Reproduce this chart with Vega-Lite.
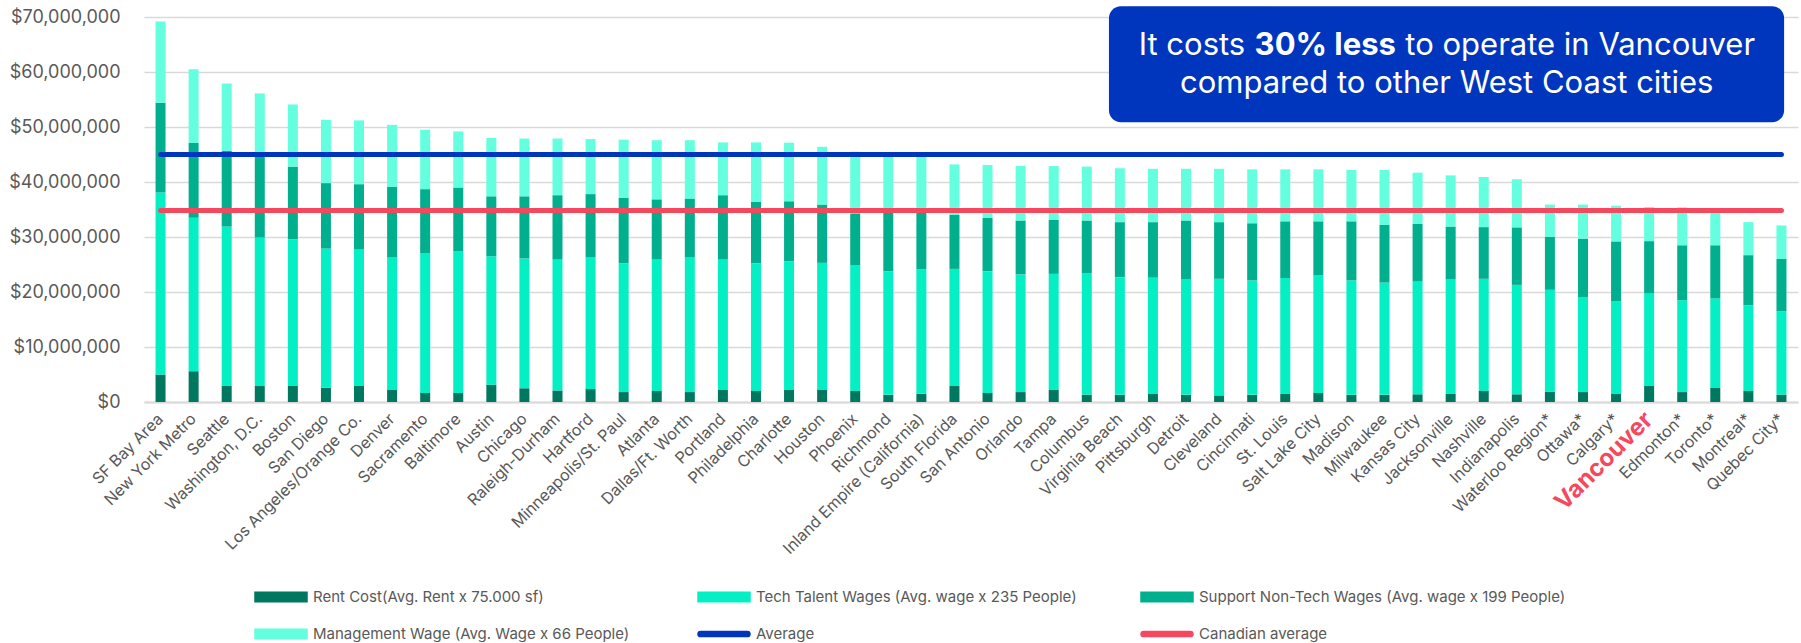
{
  "$schema": "https://vega.github.io/schema/vega-lite/v6.json",
  "width": 1654,
  "height": 385,
  "autosize": {"type": "none"},
  "padding": {"left": 144, "top": 17, "right": 3, "bottom": 241},
  "background": "white",
  "config": {"font": "Inter", "view": {"stroke": null}},
  "datasets": {
    "cities": [
      {"city": "SF Bay Area", "rent": 5000000, "labor_tech": 33100000, "labor_support": 16300000, "labor_mgmt": 14800000},
      {"city": "New York Metro", "rent": 5600000, "labor_tech": 27900000, "labor_support": 13600000, "labor_mgmt": 13400000},
      {"city": "Seattle", "rent": 3000000, "labor_tech": 28900000, "labor_support": 13800000, "labor_mgmt": 12200000},
      {"city": "Washington, D.C.", "rent": 2900000, "labor_tech": 27000000, "labor_support": 15000000, "labor_mgmt": 11200000},
      {"city": "Boston", "rent": 3000000, "labor_tech": 26600000, "labor_support": 13200000, "labor_mgmt": 11300000},
      {"city": "San Diego", "rent": 2600000, "labor_tech": 25300000, "labor_support": 11900000, "labor_mgmt": 11500000},
      {"city": "Los Angeles/Orange Co.", "rent": 3000000, "labor_tech": 24800000, "labor_support": 11800000, "labor_mgmt": 11600000},
      {"city": "Denver", "rent": 2200000, "labor_tech": 24100000, "labor_support": 12800000, "labor_mgmt": 11300000},
      {"city": "Sacramento", "rent": 1650000, "labor_tech": 25350000, "labor_support": 11700000, "labor_mgmt": 10800000},
      {"city": "Baltimore", "rent": 1650000, "labor_tech": 25750000, "labor_support": 11600000, "labor_mgmt": 10200000},
      {"city": "Austin", "rent": 3150000, "labor_tech": 23350000, "labor_support": 10900000, "labor_mgmt": 10600000},
      {"city": "Chicago", "rent": 2500000, "labor_tech": 23600000, "labor_support": 11300000, "labor_mgmt": 10500000},
      {"city": "Raleigh-Durham", "rent": 2100000, "labor_tech": 23800000, "labor_support": 11700000, "labor_mgmt": 10300000},
      {"city": "Hartford", "rent": 2350000, "labor_tech": 23950000, "labor_support": 11500000, "labor_mgmt": 10000000},
      {"city": "Minneapolis/St. Paul", "rent": 1800000, "labor_tech": 23400000, "labor_support": 11950000, "labor_mgmt": 10550000},
      {"city": "Atlanta", "rent": 2000000, "labor_tech": 23900000, "labor_support": 10950000, "labor_mgmt": 10750000},
      {"city": "Dallas/Ft. Worth", "rent": 1800000, "labor_tech": 24500000, "labor_support": 10700000, "labor_mgmt": 10600000},
      {"city": "Portland", "rent": 2200000, "labor_tech": 23700000, "labor_support": 11700000, "labor_mgmt": 9600000},
      {"city": "Philadelphia", "rent": 2000000, "labor_tech": 23200000, "labor_support": 11200000, "labor_mgmt": 10800000},
      {"city": "Charlotte", "rent": 2200000, "labor_tech": 23400000, "labor_support": 10900000, "labor_mgmt": 10650000},
      {"city": "Houston", "rent": 2200000, "labor_tech": 23100000, "labor_support": 10600000, "labor_mgmt": 10500000},
      {"city": "Phoenix", "rent": 2000000, "labor_tech": 22850000, "labor_support": 9450000, "labor_mgmt": 11200000},
      {"city": "Richmond", "rent": 1300000, "labor_tech": 22450000, "labor_support": 10650000, "labor_mgmt": 10400000},
      {"city": "Inland Empire (California)", "rent": 1500000, "labor_tech": 22600000, "labor_support": 10400000, "labor_mgmt": 10200000},
      {"city": "South Florida", "rent": 2900000, "labor_tech": 21300000, "labor_support": 9800000, "labor_mgmt": 9200000},
      {"city": "San Antonio", "rent": 1650000, "labor_tech": 22100000, "labor_support": 9700000, "labor_mgmt": 9650000},
      {"city": "Orlando", "rent": 1800000, "labor_tech": 21400000, "labor_support": 9800000, "labor_mgmt": 9950000},
      {"city": "Tampa", "rent": 2200000, "labor_tech": 21100000, "labor_support": 9850000, "labor_mgmt": 9750000},
      {"city": "Columbus", "rent": 1350000, "labor_tech": 22050000, "labor_support": 9600000, "labor_mgmt": 9800000},
      {"city": "Virginia Beach", "rent": 1300000, "labor_tech": 21400000, "labor_support": 10000000, "labor_mgmt": 9800000},
      {"city": "Pittsburgh", "rent": 1450000, "labor_tech": 21150000, "labor_support": 10100000, "labor_mgmt": 9700000},
      {"city": "Detroit", "rent": 1300000, "labor_tech": 21000000, "labor_support": 10700000, "labor_mgmt": 9400000},
      {"city": "Cleveland", "rent": 1200000, "labor_tech": 21200000, "labor_support": 10300000, "labor_mgmt": 9700000},
      {"city": "Cincinnati", "rent": 1300000, "labor_tech": 20800000, "labor_support": 10400000, "labor_mgmt": 9800000},
      {"city": "St. Louis", "rent": 1450000, "labor_tech": 21100000, "labor_support": 10300000, "labor_mgmt": 9450000},
      {"city": "Salt Lake City", "rent": 1650000, "labor_tech": 21350000, "labor_support": 9850000, "labor_mgmt": 9450000},
      {"city": "Madison", "rent": 1300000, "labor_tech": 20800000, "labor_support": 10750000, "labor_mgmt": 9350000},
      {"city": "Milwaukee", "rent": 1300000, "labor_tech": 20400000, "labor_support": 10500000, "labor_mgmt": 10000000},
      {"city": "Kansas City", "rent": 1400000, "labor_tech": 20500000, "labor_support": 10500000, "labor_mgmt": 9300000},
      {"city": "Jacksonville", "rent": 1450000, "labor_tech": 20850000, "labor_support": 9600000, "labor_mgmt": 9300000},
      {"city": "Nashville", "rent": 2000000, "labor_tech": 20400000, "labor_support": 9400000, "labor_mgmt": 9100000},
      {"city": "Indianapolis", "rent": 1400000, "labor_tech": 19900000, "labor_support": 10450000, "labor_mgmt": 8750000},
      {"city": "Waterloo Region*", "rent": 1900000, "labor_tech": 18500000, "labor_support": 9650000, "labor_mgmt": 5850000},
      {"city": "Ottawa*", "rent": 1800000, "labor_tech": 17200000, "labor_support": 10700000, "labor_mgmt": 6200000},
      {"city": "Calgary*", "rent": 1550000, "labor_tech": 16750000, "labor_support": 10900000, "labor_mgmt": 6500000},
      {"city": "Vancouver", "rent": 3000000, "labor_tech": 16800000, "labor_support": 9450000, "labor_mgmt": 6200000},
      {"city": "Edmonton*", "rent": 1800000, "labor_tech": 16700000, "labor_support": 10000000, "labor_mgmt": 6900000},
      {"city": "Toronto*", "rent": 2550000, "labor_tech": 16300000, "labor_support": 9650000, "labor_mgmt": 6400000},
      {"city": "Montreal*", "rent": 2000000, "labor_tech": 15600000, "labor_support": 9100000, "labor_mgmt": 6000000},
      {"city": "Quebec City*", "rent": 1350000, "labor_tech": 15150000, "labor_support": 9500000, "labor_mgmt": 6100000}
    ],
    "refs": [
      {"city": "SF Bay Area", "series": "Average", "value": 44980000},
      {"city": "Quebec City*", "series": "Average", "value": 44980000},
      {"city": "SF Bay Area", "series": "Canadian average", "value": 34800000},
      {"city": "Quebec City*", "series": "Canadian average", "value": 34800000}
    ]
  },
  "layer": [
    {
      "layer": [
        {
          "data": {"name": "cities"},
          "transform": [{"fold": ["rent", "labor_tech", "labor_support", "labor_mgmt"], "as": ["series", "value"]}],
          "mark": {"type": "bar", "size": 10},
          "encoding": {
            "x": {
              "field": "city", "type": "nominal", "sort": null,
              "scale": {"paddingInner": 0, "paddingOuter": 0},
              "axis": {
                "title": null, "labelAngle": -45, "labelAlign": "right", "labelBaseline": "middle",
                "labelFont": "Inter",
                "labelFontSize": {"condition": {"test": "datum.value == 'Vancouver'", "value": 24}, "value": 16},
                "labelFontWeight": {"condition": {"test": "datum.value == 'Vancouver'", "value": "bold"}, "value": "normal"},
                "labelColor": {"condition": {"test": "datum.value == 'Vancouver'", "value": "#F5485F"}, "value": "#595959"},
                "ticks": false, "domainColor": "#d9d9d9", "domainWidth": 2, "labelPadding": 14,
                "labelLimit": 400, "labelOverlap": false, "grid": false
              }
            },
            "y": {
              "field": "value", "type": "quantitative", "stack": "zero",
              "scale": {"domain": [0, 70000000], "nice": false},
              "axis": {
                "title": null, "values": [0, 10000000, 20000000, 30000000, 40000000, 50000000, 60000000, 70000000],
                "format": "$,.0f", "labelFont": "Inter", "labelFontSize": 18, "labelColor": "#595959",
                "labelPadding": 24, "ticks": false, "domain": false, "gridColor": "#d9d9d9", "gridWidth": 1.3
              }
            },
            "order": {"field": "series", "sort": "descending"},
            "color": {
              "field": "series", "type": "nominal",
              "scale": {
                "domain": ["rent", "labor_tech", "labor_support", "labor_mgmt", "Average", "Canadian average"],
                "range": ["#00775F", "#05EFC5", "#00AF8E", "#63FFDE", "#0036BD", "#F5485F"]
              },
              "legend": {
                "orient": "none", "legendX": 110, "legendY": 572, "direction": "horizontal", "columns": 3,
                "title": null, "labelFont": "Inter", "labelFontSize": 15, "labelColor": "#595959",
                "symbolSize": 2704, "clipHeight": 16, "rowPadding": 21, "columnPadding": 17,
                "gridAlign": "all", "labelOffset": 5, "padding": 0, "labelLimit": 600,
                "labelExpr": "datum.value == 'rent' ? 'Rent Cost(Avg. Rent x 75.000 sf)' : datum.value == 'labor_tech' ? 'Tech Talent Wages (Avg. wage x 235 People)' : datum.value == 'labor_support' ? 'Support Non-Tech Wages (Avg. wage x 199 People)' : datum.value == 'labor_mgmt' ? 'Management Wage (Avg. Wage x 66 People)' : datum.label",
                "encode": {
                  "symbols": {
                    "update": {
                      "shape": {"signal": "(datum.value == 'Average' || datum.value == 'Canadian average') ? 'M-0.9,-0.1L0.9,-0.1A0.1,0.1,0,0,1,0.9,0.1L-0.9,0.1A0.1,0.1,0,0,1,-0.9,-0.1Z' : 'M-1,-0.18L1,-0.18L1,0.18L-1,0.18Z'"},
                      "fill": {"scale": "color", "field": "value"},
                      "stroke": {"value": "transparent"},
                      "opacity": {"value": 1}
                    }
                  }
                }
              }
            }
          }
        },
        {
          "data": {"name": "refs"},
          "mark": {"type": "line", "strokeWidth": 5, "strokeCap": "round"},
          "encoding": {
            "x": {"field": "city", "type": "nominal", "sort": null},
            "y": {"field": "value", "type": "quantitative", "scale": {"domain": [0, 70000000], "nice": false}},
            "color": {"field": "series", "type": "nominal", "legend": null}
          }
        }
      ]
    },
    {
      "data": {"values": [{}]},
      "layer": [
        {
          "mark": {"type": "rect", "color": "#0036BD", "cornerRadius": 12},
          "encoding": {
            "x": {"datum": 29.17, "type": "quantitative", "scale": {"domain": [0, 50], "nice": false, "zero": false}, "axis": null},
            "x2": {"datum": 49.58},
            "y": {"datum": 71950000, "type": "quantitative", "title": null, "scale": {"domain": [0, 70000000], "nice": false}},
            "y2": {"datum": 50850000}
          }
        },
        {
          "mark": {"type": "text", "text": "It costs", "align": "right", "baseline": "alphabetic", "font": "Inter", "fontSize": 31, "color": "white"},
          "encoding": {
            "x": {"datum": 33.29, "type": "quantitative", "scale": {"domain": [0, 50], "nice": false, "zero": false}, "axis": null},
            "y": {"datum": 63040000, "type": "quantitative", "title": null, "scale": {"domain": [0, 70000000], "nice": false}}
          }
        },
        {
          "mark": {"type": "text", "text": "30% less", "align": "center", "baseline": "alphabetic", "font": "Inter", "fontSize": 31, "fontWeight": "bold", "color": "white"},
          "encoding": {
            "x": {"datum": 35.71, "type": "quantitative", "scale": {"domain": [0, 50], "nice": false, "zero": false}, "axis": null},
            "y": {"datum": 63040000, "type": "quantitative", "title": null, "scale": {"domain": [0, 70000000], "nice": false}}
          }
        },
        {
          "mark": {"type": "text", "text": "to operate in Vancouver", "align": "left", "baseline": "alphabetic", "font": "Inter", "fontSize": 31, "color": "white"},
          "encoding": {
            "x": {"datum": 38.13, "type": "quantitative", "scale": {"domain": [0, 50], "nice": false, "zero": false}, "axis": null},
            "y": {"datum": 63040000, "type": "quantitative", "title": null, "scale": {"domain": [0, 70000000], "nice": false}}
          }
        },
        {
          "mark": {"type": "text", "text": "compared to other West Coast cities", "align": "center", "baseline": "alphabetic", "font": "Inter", "fontSize": 31, "color": "white"},
          "encoding": {
            "x": {"datum": 39.38, "type": "quantitative", "scale": {"domain": [0, 50], "nice": false, "zero": false}, "axis": null},
            "y": {"datum": 56130000, "type": "quantitative", "title": null, "scale": {"domain": [0, 70000000], "nice": false}}
          }
        }
      ]
    }
  ],
  "resolve": {"scale": {"x": "independent"}}
}
